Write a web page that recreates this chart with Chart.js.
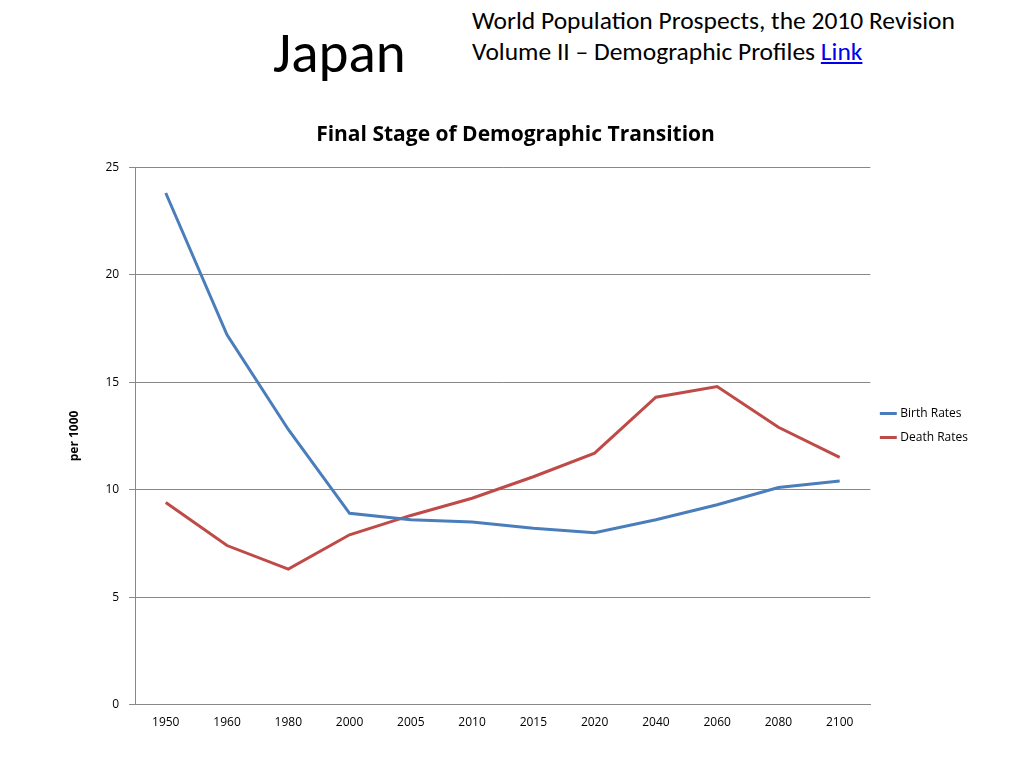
<!DOCTYPE html>
<html>
<head>
<meta charset="utf-8">
<script src="https://cdn.jsdelivr.net/npm/chart.js@4"></script>
<style>
  body { margin: 0; width: 1024px; height: 768px; background: #fff; font-family: Calibri, Carlito, "Open Sans", sans-serif; position: relative; overflow: hidden; }
  #heading { position: absolute; left: 273px; top: 18px; font-size: 57px; color: #000; }
  #source { position: absolute; left: 472px; top: 5px; font-size: 25.5px; line-height: 31px; color: #000; }
  #source a { color: #0000ee; }
  #wrap { position: absolute; left: 53px; top: 118px; width: 935px; height: 615px; }
</style>
</head>
<body>
<div id="heading">Japan</div>
<div id="source">World Population Prospects, the 2010 Revision<br>Volume II – Demographic Profiles <a href="#">Link</a></div>
<div id="wrap"><canvas id="chart"></canvas></div>
<script>
const years = ['1950', '1960', '1980', '2000', '2005', '2010', '2015', '2020', '2040', '2060', '2080', '2100'];
const birthRates = [23.8, 17.2, 12.8, 8.9, 8.6, 8.5, 8.2, 8.0, 8.6, 9.3, 10.1, 10.4];
const deathRates = [9.4, 7.4, 6.3, 7.9, 8.8, 9.6, 10.6, 11.7, 14.3, 14.8, 12.9, 11.5];

document.addEventListener('DOMContentLoaded', function() {
    const ctx = document.getElementById('chart').getContext('2d');
    new Chart(ctx, {
        type: 'line',
        data: {
            labels: years,
            datasets: [
                { label: 'Birth Rates', data: birthRates, borderColor: '#4a7ebb', backgroundColor: '#4a7ebb', borderWidth: 3, pointRadius: 0, tension: 0 },
                { label: 'Death Rates', data: deathRates, borderColor: '#be4b48', backgroundColor: '#be4b48', borderWidth: 3, pointRadius: 0, tension: 0 }
            ]
        },
        options: {
            responsive: true,
            maintainAspectRatio: false,
            animation: false,
            layout: { padding: { right: 10 } },
            plugins: {
                title: { display: true, text: 'Final Stage of Demographic Transition', color: '#000', font: { size: 21, weight: 'bold', family: 'Open Sans' }, padding: { top: 4, bottom: 20 } },
                legend: {
                    position: 'right',
                    labels: { usePointStyle: true, pointStyle: 'line', boxWidth: 30, color: '#000', font: { size: 12, family: 'Open Sans' }, padding: 12 }
                },
                tooltip: { enabled: false }
            },
            scales: {
                x: {
                    offset: true,
                    grid: { display: false, drawTicks: true },
                    border: { color: '#888' },
                    ticks: { color: '#000', font: { size: 12, family: 'Open Sans' }, maxRotation: 0 }
                },
                y: {
                    min: 0, max: 25,
                    ticks: { stepSize: 5, color: '#000', font: { size: 12, family: 'Open Sans' }, padding: 10 },
                    grid: { color: '#888', tickLength: 6 },
                    border: { color: '#888' },
                    title: { display: true, text: 'per 1000', color: '#000', font: { size: 12, weight: 'bold', family: 'Open Sans' }, padding: 14 }
                }
            }
        }
    });
});
</script>
</body>
</html>
